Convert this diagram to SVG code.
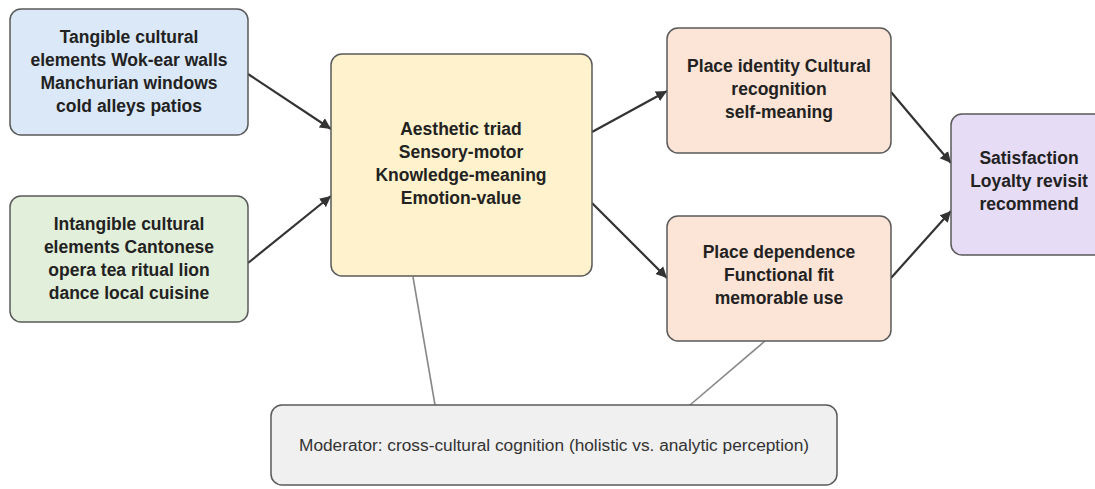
<svg xmlns="http://www.w3.org/2000/svg" width="1095" height="489" viewBox="0 0 1095 489">
<style>
.box{stroke:#5a5a5a;stroke-width:1.5}
.t{font-family:"Liberation Sans",Arial,sans-serif;font-size:17.5px;font-weight:bold;fill:#222;text-anchor:middle}
.m{font-family:"Liberation Sans",Arial,sans-serif;font-size:17.3px;fill:#333;text-anchor:middle}
.arr{stroke:#333;stroke-width:2.2;fill:none;marker-end:url(#ah)}
.mod{stroke:#888;stroke-width:1.6;fill:none}
</style>
<defs>
<marker id="ah" viewBox="0 0 10 10" refX="10" refY="5" markerWidth="5" markerHeight="5.5" orient="auto" markerUnits="strokeWidth">
<path d="M0,0 L10,5 L0,10 z" fill="#333"/>
</marker>
</defs>
<rect width="1095" height="489" fill="#fff"/>
<g id="connectors">
<line class="arr" x1="248" y1="74" x2="331" y2="129"/>
<line class="arr" x1="248" y1="263" x2="331" y2="196"/>
<line class="arr" x1="592" y1="132" x2="667" y2="91"/>
<line class="arr" x1="592" y1="203" x2="667" y2="278"/>
<line class="arr" x1="891" y1="92" x2="951" y2="163"/>
<line class="arr" x1="891" y1="278" x2="951" y2="211"/>
<line class="mod" x1="413" y1="277" x2="435" y2="405"/>
<line class="mod" x1="765" y1="341" x2="690" y2="405"/>
</g>
<g id="tangible">
<rect class="box" x="10" y="9" width="238" height="126" rx="11" fill="#dbe8f7"/>
<text class="t" x="129" y="43">Tangible cultural</text>
<text class="t" x="129" y="66">elements Wok-ear walls</text>
<text class="t" x="129" y="89">Manchurian windows</text>
<text class="t" x="129" y="112">cold alleys patios</text>
</g>
<g id="intangible">
<rect class="box" x="10" y="196" width="238" height="126" rx="11" fill="#e2efda"/>
<text class="t" x="129" y="230">Intangible cultural</text>
<text class="t" x="129" y="253">elements Cantonese</text>
<text class="t" x="129" y="276">opera tea ritual lion</text>
<text class="t" x="129" y="299">dance local cuisine</text>
</g>
<g id="aesthetic">
<rect class="box" x="331" y="54" width="261" height="222" rx="11" fill="#fff2cc"/>
<text class="t" x="461" y="135">Aesthetic triad</text>
<text class="t" x="461" y="158">Sensory-motor</text>
<text class="t" x="461" y="181">Knowledge-meaning</text>
<text class="t" x="461" y="204">Emotion-value</text>
</g>
<g id="identity">
<rect class="box" x="667" y="28" width="224" height="125" rx="11" fill="#fce4d6"/>
<text class="t" x="779" y="72">Place identity Cultural</text>
<text class="t" x="779" y="95">recognition</text>
<text class="t" x="779" y="118">self-meaning</text>
</g>
<g id="dependence">
<rect class="box" x="667" y="216" width="224" height="125" rx="11" fill="#fce4d6"/>
<text class="t" x="779" y="258">Place dependence</text>
<text class="t" x="779" y="281">Functional fit</text>
<text class="t" x="779" y="304">memorable use</text>
</g>
<g id="outcome">
<rect class="box" x="951" y="114" width="160" height="141" rx="11" fill="#e7dcf5"/>
<text class="t" x="1029" y="164">Satisfaction</text>
<text class="t" x="1029" y="187">Loyalty revisit</text>
<text class="t" x="1029" y="210">recommend</text>
</g>
<g id="moderator">
<rect class="box" x="271" y="405" width="566" height="80" rx="11" fill="#f0f0f0"/>
<text class="m" x="554" y="451">Moderator: cross-cultural cognition (holistic vs. analytic perception)</text>
</g>
</svg>
